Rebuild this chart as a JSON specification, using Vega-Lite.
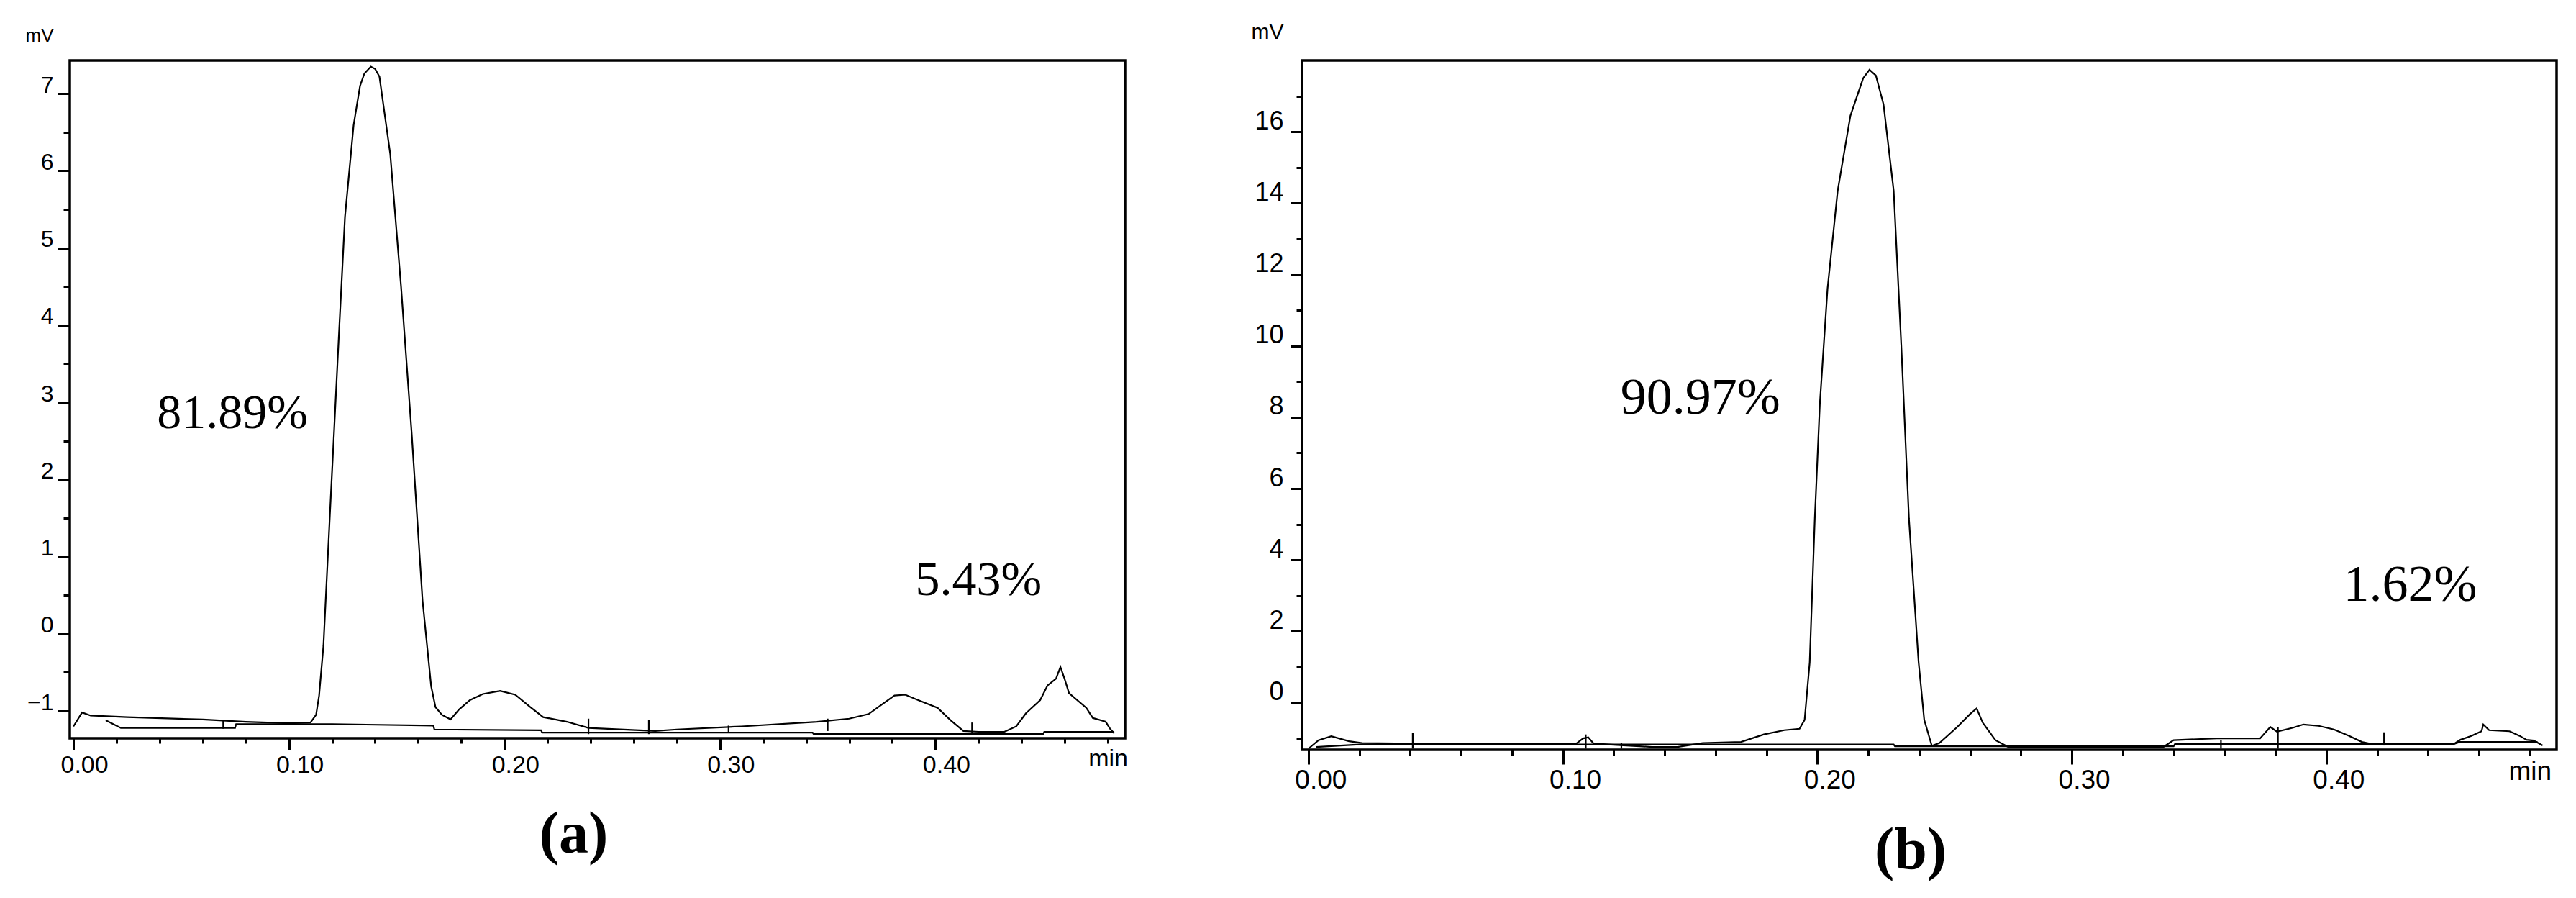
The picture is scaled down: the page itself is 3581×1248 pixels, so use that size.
{
  "$schema": "https://vega.github.io/schema/vega-lite/v6.json",
  "background": "white",
  "autosize": {"type": "pad"},
  "padding": {"left": 33, "top": 27, "right": 0, "bottom": 0},
  "bounds": "flush",
  "spacing": 246,
  "config": {
    "view": {"stroke": "black", "strokeWidth": 3.5},
    "font": "Liberation Sans",
    "axis": {"domain": false, "grid": false, "tickColor": "black", "tickWidth": 3, "labelColor": "black", "labelFont": "Liberation Sans", "labelFlush": false, "labelOverlap": false, "titleColor": "black", "titleFont": "Liberation Sans", "titleFontWeight": "normal"}
  },
  "datasets": {
    "lineA": [
      {"s": "sig", "t": 0.000, "v": -1.20}, {"s": "sig", "t": 0.004, "v": -1.02}, {"s": "sig", "t": 0.008, "v": -1.06},
      {"s": "sig", "t": 0.025, "v": -1.08}, {"s": "sig", "t": 0.060, "v": -1.11}, {"s": "sig", "t": 0.080, "v": -1.14},
      {"s": "sig", "t": 0.100, "v": -1.16}, {"s": "sig", "t": 0.110, "v": -1.15}, {"s": "sig", "t": 0.1126, "v": -1.05},
      {"s": "sig", "t": 0.114, "v": -0.80}, {"s": "sig", "t": 0.116, "v": -0.16}, {"s": "sig", "t": 0.119, "v": 1.54},
      {"s": "sig", "t": 0.123, "v": 3.77}, {"s": "sig", "t": 0.126, "v": 5.40}, {"s": "sig", "t": 0.130, "v": 6.59},
      {"s": "sig", "t": 0.133, "v": 7.10}, {"s": "sig", "t": 0.135, "v": 7.26}, {"s": "sig", "t": 0.138, "v": 7.35},
      {"s": "sig", "t": 0.140, "v": 7.32}, {"s": "sig", "t": 0.142, "v": 7.22}, {"s": "sig", "t": 0.147, "v": 6.22},
      {"s": "sig", "t": 0.152, "v": 4.51}, {"s": "sig", "t": 0.157, "v": 2.58}, {"s": "sig", "t": 0.162, "v": 0.43},
      {"s": "sig", "t": 0.166, "v": -0.68}, {"s": "sig", "t": 0.168, "v": -0.95}, {"s": "sig", "t": 0.171, "v": -1.05},
      {"s": "sig", "t": 0.175, "v": -1.11}, {"s": "sig", "t": 0.179, "v": -0.98}, {"s": "sig", "t": 0.184, "v": -0.86},
      {"s": "sig", "t": 0.190, "v": -0.78}, {"s": "sig", "t": 0.198, "v": -0.74}, {"s": "sig", "t": 0.205, "v": -0.79},
      {"s": "sig", "t": 0.212, "v": -0.95}, {"s": "sig", "t": 0.218, "v": -1.08}, {"s": "sig", "t": 0.229, "v": -1.14},
      {"s": "sig", "t": 0.239, "v": -1.22}, {"s": "sig", "t": 0.270, "v": -1.26}, {"s": "sig", "t": 0.280, "v": -1.24},
      {"s": "sig", "t": 0.310, "v": -1.20}, {"s": "sig", "t": 0.345, "v": -1.14}, {"s": "sig", "t": 0.360, "v": -1.10},
      {"s": "sig", "t": 0.369, "v": -1.04}, {"s": "sig", "t": 0.375, "v": -0.92}, {"s": "sig", "t": 0.381, "v": -0.80},
      {"s": "sig", "t": 0.386, "v": -0.79}, {"s": "sig", "t": 0.392, "v": -0.86}, {"s": "sig", "t": 0.401, "v": -0.96},
      {"s": "sig", "t": 0.407, "v": -1.12}, {"s": "sig", "t": 0.413, "v": -1.26}, {"s": "sig", "t": 0.420, "v": -1.27},
      {"s": "sig", "t": 0.432, "v": -1.27}, {"s": "sig", "t": 0.4375, "v": -1.20}, {"s": "sig", "t": 0.442, "v": -1.03},
      {"s": "sig", "t": 0.4486, "v": -0.86}, {"s": "sig", "t": 0.452, "v": -0.67}, {"s": "sig", "t": 0.456, "v": -0.58},
      {"s": "sig", "t": 0.458, "v": -0.43}, {"s": "sig", "t": 0.460, "v": -0.59}, {"s": "sig", "t": 0.462, "v": -0.77},
      {"s": "sig", "t": 0.470, "v": -0.96}, {"s": "sig", "t": 0.473, "v": -1.09}, {"s": "sig", "t": 0.479, "v": -1.14},
      {"s": "sig", "t": 0.481, "v": -1.23}, {"s": "sig", "t": 0.483, "v": -1.29},
      {"s": "base", "t": 0.015, "v": -1.12}, {"s": "base", "t": 0.022, "v": -1.22}, {"s": "base", "t": 0.075, "v": -1.22},
      {"s": "base", "t": 0.0755, "v": -1.17}, {"s": "base", "t": 0.120, "v": -1.17}, {"s": "base", "t": 0.167, "v": -1.19},
      {"s": "base", "t": 0.1675, "v": -1.24}, {"s": "base", "t": 0.217, "v": -1.25}, {"s": "base", "t": 0.2175, "v": -1.28},
      {"s": "base", "t": 0.343, "v": -1.28}, {"s": "base", "t": 0.3435, "v": -1.30}, {"s": "base", "t": 0.450, "v": -1.30},
      {"s": "base", "t": 0.4505, "v": -1.27}, {"s": "base", "t": 0.483, "v": -1.27}
    ],
    "markA": [
      {"t": 0.0695, "y1": -1.23, "y2": -1.12}, {"t": 0.239, "y1": -1.30, "y2": -1.10}, {"t": 0.267, "y1": -1.30, "y2": -1.12},
      {"t": 0.304, "y1": -1.27, "y2": -1.19}, {"t": 0.350, "y1": -1.26, "y2": -1.10}, {"t": 0.417, "y1": -1.29, "y2": -1.15}
    ],
    "labA": [
      {"t": 0.0738, "v": 2.85, "label": "81.89%"},
      {"t": 0.420, "v": 0.69, "label": "5.43%"}
    ],
    "lineB": [
      {"s": "sig", "t": 0.000, "v": -1.29}, {"s": "sig", "t": 0.004, "v": -1.05}, {"s": "sig", "t": 0.009, "v": -0.94},
      {"s": "sig", "t": 0.016, "v": -1.08}, {"s": "sig", "t": 0.021, "v": -1.13}, {"s": "sig", "t": 0.060, "v": -1.16},
      {"s": "sig", "t": 0.105, "v": -1.16}, {"s": "sig", "t": 0.108, "v": -1.00}, {"s": "sig", "t": 0.110, "v": -0.97},
      {"s": "sig", "t": 0.112, "v": -1.14}, {"s": "sig", "t": 0.120, "v": -1.18}, {"s": "sig", "t": 0.135, "v": -1.24},
      {"s": "sig", "t": 0.145, "v": -1.24}, {"s": "sig", "t": 0.155, "v": -1.13}, {"s": "sig", "t": 0.170, "v": -1.10},
      {"s": "sig", "t": 0.179, "v": -0.89}, {"s": "sig", "t": 0.187, "v": -0.77}, {"s": "sig", "t": 0.193, "v": -0.73},
      {"s": "sig", "t": 0.195, "v": -0.48}, {"s": "sig", "t": 0.197, "v": 1.13}, {"s": "sig", "t": 0.199, "v": 5.16},
      {"s": "sig", "t": 0.201, "v": 8.39}, {"s": "sig", "t": 0.204, "v": 11.6}, {"s": "sig", "t": 0.208, "v": 14.35},
      {"s": "sig", "t": 0.213, "v": 16.45}, {"s": "sig", "t": 0.218, "v": 17.5}, {"s": "sig", "t": 0.2205, "v": 17.74},
      {"s": "sig", "t": 0.223, "v": 17.58}, {"s": "sig", "t": 0.226, "v": 16.77}, {"s": "sig", "t": 0.230, "v": 14.35},
      {"s": "sig", "t": 0.233, "v": 10.0}, {"s": "sig", "t": 0.236, "v": 5.16}, {"s": "sig", "t": 0.2398, "v": 1.13},
      {"s": "sig", "t": 0.242, "v": -0.48}, {"s": "sig", "t": 0.245, "v": -1.21}, {"s": "sig", "t": 0.248, "v": -1.13},
      {"s": "sig", "t": 0.255, "v": -0.68}, {"s": "sig", "t": 0.260, "v": -0.32}, {"s": "sig", "t": 0.2626, "v": -0.16},
      {"s": "sig", "t": 0.265, "v": -0.56}, {"s": "sig", "t": 0.270, "v": -1.05}, {"s": "sig", "t": 0.275, "v": -1.24},
      {"s": "sig", "t": 0.336, "v": -1.24}, {"s": "sig", "t": 0.340, "v": -1.05}, {"s": "sig", "t": 0.357, "v": -1.00},
      {"s": "sig", "t": 0.374, "v": -1.00}, {"s": "sig", "t": 0.378, "v": -0.68}, {"s": "sig", "t": 0.3806, "v": -0.81},
      {"s": "sig", "t": 0.387, "v": -0.70}, {"s": "sig", "t": 0.391, "v": -0.61}, {"s": "sig", "t": 0.397, "v": -0.65},
      {"s": "sig", "t": 0.403, "v": -0.75}, {"s": "sig", "t": 0.409, "v": -0.93}, {"s": "sig", "t": 0.414, "v": -1.10},
      {"s": "sig", "t": 0.418, "v": -1.16}, {"s": "sig", "t": 0.450, "v": -1.16}, {"s": "sig", "t": 0.4527, "v": -1.04},
      {"s": "sig", "t": 0.457, "v": -0.93}, {"s": "sig", "t": 0.461, "v": -0.80}, {"s": "sig", "t": 0.4617, "v": -0.61},
      {"s": "sig", "t": 0.464, "v": -0.77}, {"s": "sig", "t": 0.472, "v": -0.80}, {"s": "sig", "t": 0.476, "v": -0.93},
      {"s": "sig", "t": 0.4787, "v": -1.04}, {"s": "sig", "t": 0.4815, "v": -1.06}, {"s": "sig", "t": 0.485, "v": -1.20},
      {"s": "base", "t": 0.003, "v": -1.24}, {"s": "base", "t": 0.020, "v": -1.17}, {"s": "base", "t": 0.230, "v": -1.17},
      {"s": "base", "t": 0.2305, "v": -1.22}, {"s": "base", "t": 0.340, "v": -1.22}, {"s": "base", "t": 0.3405, "v": -1.16},
      {"s": "base", "t": 0.450, "v": -1.16}, {"s": "base", "t": 0.4525, "v": -1.10}, {"s": "base", "t": 0.483, "v": -1.10}
    ],
    "markB": [
      {"t": 0.041, "y1": -1.29, "y2": -0.85}, {"t": 0.109, "y1": -1.29, "y2": -0.89}, {"t": 0.123, "y1": -1.29, "y2": -1.13},
      {"t": 0.3586, "y1": -1.29, "y2": -1.05}, {"t": 0.381, "y1": -1.29, "y2": -0.68}, {"t": 0.4227, "y1": -1.20, "y2": -0.83}
    ],
    "labB": [
      {"t": 0.154, "v": 8.55, "label": "90.97%"},
      {"t": 0.433, "v": 3.3, "label": "1.62%"}
    ]
  },
  "hconcat": [
    {
      "width": 1467,
      "height": 942,
      "title": {"text": "(a)", "orient": "bottom", "font": "Liberation Serif", "fontSize": 82, "fontWeight": "bold", "color": "black", "offset": 40, "dx": -33},
      "layer": [
        {
          "data": {"name": "lineA"},
          "mark": {"type": "line", "color": "black", "strokeWidth": 2.2},
          "encoding": {
            "x": {"field": "t", "type": "quantitative", "scale": {"domain": [-0.0017, 0.488], "nice": false, "zero": false},
              "axis": {"title": null, "values": [0,0.02,0.04,0.06,0.08,0.1,0.12,0.14,0.16,0.18,0.2,0.22,0.24,0.26,0.28,0.3,0.32,0.34,0.36,0.38,0.4,0.42,0.44,0.46,0.48],
                "labelExpr": "round(datum.value*100) == 48 ? 'min' : (round(datum.value*100) % 10 == 0 ? format(datum.value, '.2f') : '')",
                "tickSize": {"condition": {"test": "round(datum.value*100) % 10 == 0", "value": 16}, "value": 7},
                "labelOffset": {"condition": {"test": "round(datum.value*100) == 48", "value": 0}, "value": 15},
                "labelFontSize": 34, "labelPadding": 4}},
            "y": {"field": "v", "type": "quantitative", "scale": {"domain": [-1.354, 7.43], "nice": false, "zero": false},
              "axis": {"values": [-1,-0.5,0,0.5,1,1.5,2,2.5,3,3.5,4,4.5,5,5.5,6,6.5,7],
                "labelExpr": "datum.value % 1 == 0 ? format(datum.value, 'd') : ''",
                "tickSize": {"condition": {"test": "datum.value % 1 == 0", "value": 17}, "value": 9},
                "labelFontSize": 32, "labelPadding": 6, "labelOffset": -12,
                "title": "mV", "titleAngle": 0, "titleAlign": "right", "titleBaseline": "middle", "titleX": -23, "titleY": -35, "titleFontSize": 26}},
            "detail": {"field": "s"}
          }
        },
        {
          "data": {"name": "markA"},
          "mark": {"type": "rule", "color": "black", "strokeWidth": 2.2},
          "encoding": {
            "x": {"field": "t", "type": "quantitative"},
            "y": {"field": "y1", "type": "quantitative"},
            "y2": {"field": "y2"}
          }
        },
        {
          "data": {"name": "labA"},
          "mark": {"type": "text", "font": "Liberation Serif", "fontSize": 68, "color": "black"},
          "encoding": {
            "x": {"field": "t", "type": "quantitative"},
            "y": {"field": "v", "type": "quantitative"},
            "text": {"field": "label"}
          }
        }
      ]
    },
    {
      "width": 1744,
      "height": 958,
      "title": {"text": "(b)", "orient": "bottom", "font": "Liberation Serif", "fontSize": 82, "fontWeight": "bold", "color": "black", "offset": 40, "dx": -26},
      "layer": [
        {
          "data": {"name": "lineB"},
          "mark": {"type": "line", "color": "black", "strokeWidth": 2.2},
          "encoding": {
            "x": {"field": "t", "type": "quantitative", "scale": {"domain": [-0.0025, 0.4905], "nice": false, "zero": false},
              "axis": {"title": null, "values": [0,0.02,0.04,0.06,0.08,0.1,0.12,0.14,0.16,0.18,0.2,0.22,0.24,0.26,0.28,0.3,0.32,0.34,0.36,0.38,0.4,0.42,0.44,0.46,0.48],
                "labelExpr": "round(datum.value*100) == 48 ? 'min' : (round(datum.value*100) % 10 == 0 ? format(datum.value, '.2f') : '')",
                "tickSize": {"condition": {"test": "round(datum.value*100) % 10 == 0", "value": 20}, "value": 8},
                "labelOffset": {"condition": {"test": "round(datum.value*100) == 48", "value": 0}, "value": 17},
                "labelFontSize": 37, "labelPadding": 4}},
            "y": {"field": "v", "type": "quantitative", "scale": {"domain": [-1.32, 18.0], "nice": false, "zero": false},
              "axis": {"values": [-1,0,1,2,3,4,5,6,7,8,9,10,11,12,13,14,15,16,17],
                "labelExpr": "datum.value % 2 == 0 ? format(datum.value, 'd') : ''",
                "tickSize": {"condition": {"test": "datum.value % 2 == 0", "value": 16}, "value": 8},
                "labelFontSize": 36, "labelPadding": 10, "labelOffset": -15,
                "title": "mV", "titleAngle": 0, "titleAlign": "right", "titleBaseline": "middle", "titleX": -26, "titleY": -40, "titleFontSize": 30}},
            "detail": {"field": "s"}
          }
        },
        {
          "data": {"name": "markB"},
          "mark": {"type": "rule", "color": "black", "strokeWidth": 2.2},
          "encoding": {
            "x": {"field": "t", "type": "quantitative"},
            "y": {"field": "y1", "type": "quantitative"},
            "y2": {"field": "y2"}
          }
        },
        {
          "data": {"name": "labB"},
          "mark": {"type": "text", "font": "Liberation Serif", "fontSize": 72, "color": "black"},
          "encoding": {
            "x": {"field": "t", "type": "quantitative"},
            "y": {"field": "v", "type": "quantitative"},
            "text": {"field": "label"}
          }
        }
      ]
    }
  ]
}
